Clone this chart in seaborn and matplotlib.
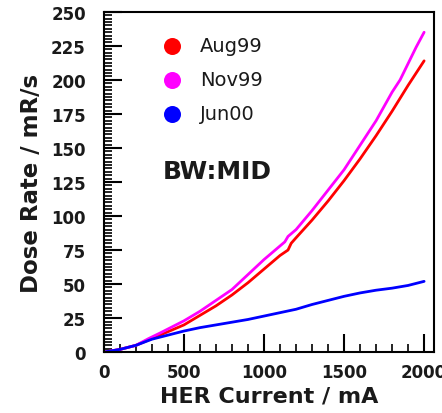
import numpy as np
import pandas as pd
import matplotlib
matplotlib.use("Agg")
import matplotlib.pyplot as plt
from matplotlib.ticker import MultipleLocator
import seaborn as sns

sns.set_theme(style="white")
plt.rcParams['font.family'] = ['DejaVu Sans']

# Aug99 (red)
aug_x = [0, 100, 200, 300, 400, 500, 600, 700, 800, 900, 1000, 1100, 1150, 1170, 1200,
         1300, 1400, 1500, 1600, 1700, 1800, 1900, 2000]
aug_y = [0, 2, 5, 10, 15, 20, 27, 34, 42, 51, 61, 71, 75, 80, 84,
         97, 111, 126, 142, 159, 177, 196, 214]
# Nov99 (magenta)
nov_x = [0, 100, 200, 280, 350, 400, 500, 600, 700, 800, 900, 1000, 1100, 1130, 1150,
         1200, 1300, 1400, 1500, 1600, 1700, 1800, 1850, 1900, 1950, 2000]
nov_y = [0, 2, 5, 10, 14, 17, 23, 30, 38, 46, 57, 68, 78, 81, 85,
         90, 104, 119, 134, 152, 170, 191, 200, 212, 224, 235]
# Jun00 (blue)
jun_x = [0, 100, 200, 300, 400, 500, 600, 700, 800, 900, 1000, 1100, 1200, 1300,
         1400, 1500, 1600, 1700, 1800, 1900, 2000]
jun_y = [0, 2, 5, 9.5, 12.5, 15.5, 18, 20, 22, 24, 26.5, 29, 31.5, 35,
         38, 41, 43.5, 45.5, 47, 49, 52]

series = ["Aug99", "Nov99", "Jun00"]
colors = ["#ff0000", "#ff00ff", "#0000ff"]

df = pd.concat([
    pd.DataFrame({"x": aug_x, "y": aug_y, "s": "Aug99"}),
    pd.DataFrame({"x": nov_x, "y": nov_y, "s": "Nov99"}),
    pd.DataFrame({"x": jun_x, "y": jun_y, "s": "Jun00"}),
])

fig = plt.figure(figsize=(4.42, 4.14), dpi=100)
ax = fig.add_axes([0.235, 0.147, 0.747, 0.822])

sns.lineplot(data=df, x="x", y="y", hue="s", hue_order=series,
             palette=colors, linewidth=2, ax=ax, legend=False, sort=False)

ax.set_xlim(0, 2062)
ax.set_ylim(0, 250)
ax.xaxis.set_major_locator(MultipleLocator(500))
ax.xaxis.set_minor_locator(MultipleLocator(100))
ax.yaxis.set_major_locator(MultipleLocator(25))
ax.yaxis.set_minor_locator(MultipleLocator(2.5))
ax.tick_params(which="major", direction="in", length=13, width=1.5,
               labelsize=12, color="black", bottom=True, left=True)
ax.tick_params(axis="y", which="major", pad=13)
ax.tick_params(axis="x", which="major", pad=8)
ax.tick_params(which="minor", direction="in", length=6, width=1.2,
               color="black", bottom=True, left=True)
for lab in ax.get_xticklabels() + ax.get_yticklabels():
    lab.set_fontweight("bold")
    lab.set_color("#1a1a1a")
for sp in ax.spines.values():
    sp.set_visible(True)
    sp.set_color("black")
    sp.set_linewidth(1.5)

ax.set_xlabel("HER Current / mA", fontsize=16, fontweight="bold",
              color="#1a1a1a", labelpad=3)
ax.set_ylabel("Dose Rate / mR/s", fontsize=16.5, fontweight="bold",
              color="#1a1a1a", labelpad=6)

# legend
ys = [0.90, 0.80, 0.70]
for name, c, yy in zip(series, colors, ys):
    ax.scatter([0.206], [yy], s=150, color=c, transform=ax.transAxes, zorder=5,
               linewidths=0)
    ax.text(0.291, yy, name, transform=ax.transAxes, fontsize=14,
            va="center", ha="left", color="#1a1a1a")

ax.text(0.179, 0.531, "BW:MID", transform=ax.transAxes, fontsize=18,
        fontweight="bold", va="center", ha="left", color="#1a1a1a")

fig.savefig("out.png", dpi=100)
